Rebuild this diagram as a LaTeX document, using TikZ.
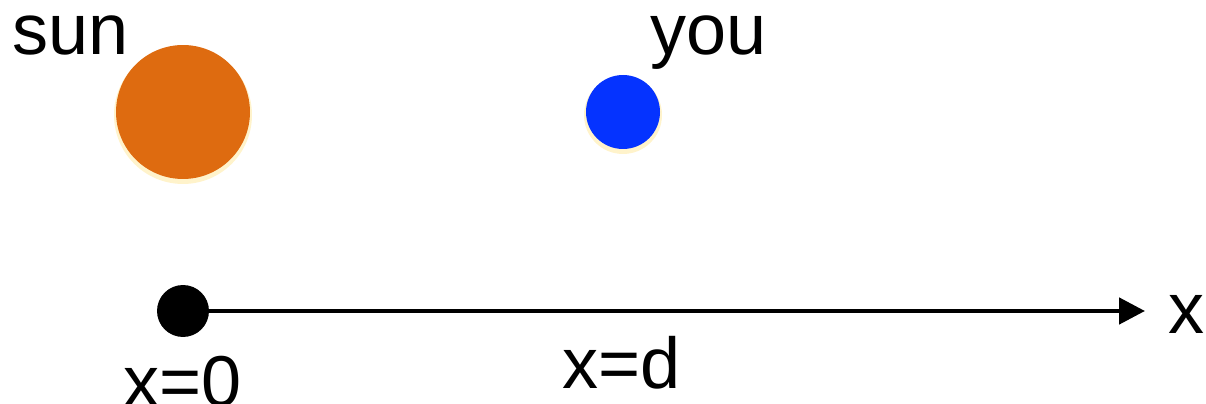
\documentclass[tikz,border=0pt]{standalone}
\usepackage{fontspec}
\setmainfont{Liberation Sans}
\usepackage{xcolor}
\usetikzlibrary{arrows.meta, positioning}
\definecolor{sunorange}{HTML}{DE6B10}
\definecolor{youblue}{HTML}{0533FF}
\definecolor{glow}{HTML}{FFE9A0}
\begin{document}
\begin{tikzpicture}[x=0.02cm, y=-0.02cm,
  body/.style={circle, inner sep=0pt, draw=none},
  glowing/.style={circle, inner sep=0pt, draw=none, fill=glow, opacity=0.55},
  lbl/.style={inner sep=0pt, anchor=base west, font=\fontsize{41}{41}\selectfont},
  axis/.style={-{Triangle[length=0.52cm, width=0.52cm]}, line width=0.095cm}
]
\useasboundingbox (0,0) rectangle (1206,404);
% soft glow under the two bodies
\node[glowing, minimum size=2.76cm] at (183,115) {};
\node[glowing, minimum size=1.56cm] at (623,115) {};
\node[body, fill=sunorange, minimum size=2.68cm] (sun) at (183,112) {};
\node[body, fill=youblue, minimum size=1.48cm] (you) at (623,112) {};
\node[body, fill=black, minimum size=1.04cm] (origin) at (183,311) {};
\coordinate (xend) at (1145,311);
\node[lbl] (sunlbl) at (12,55) {sun};
\node[lbl] (youlbl) at (650,55) {you};
\node[lbl] (x0) at (123,407) {x=0};
\node[lbl] (xd) at (562,389) {x=d};
\node[lbl] (xlbl) at (1168,334) {x};
\draw[axis] (origin.east) -- (xend);
\end{tikzpicture}
\end{document}
